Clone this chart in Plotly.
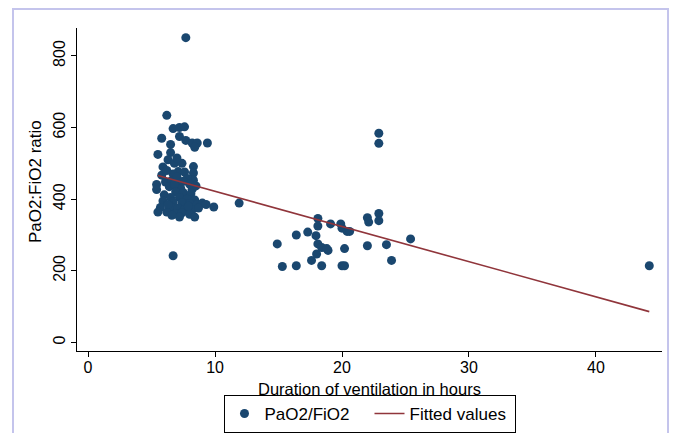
import plotly.graph_objects as go

# PaO2/FiO2 observations: duration of ventilation (hours) and ratio
hours = [
    7.7, 6.2, 6.7, 7.2, 7.6, 5.8, 7.2, 7.7, 8.2, 8.6, 9.4, 8.4, 6.5, 5.5, 6.5, 6.3, 6.8, 7.4, 7.0,
    5.9, 8.3, 7.1, 7.6, 8.3, 5.8, 6.7, 6.1, 6.6, 7.1, 8.3, 5.4, 5.4, 6.4, 7.3, 8.2, 8.5, 7.8, 7.0,
    6.2, 7.5, 8.0, 6.8,
    6.9, 7.5, 8.1, 6.0, 6.5, 7.2, 7.8, 8.4, 5.9, 6.7, 7.4, 8.0, 8.6, 9.0, 9.9, 5.7, 6.5, 7.1, 7.6,
    8.2, 5.5, 6.2, 6.9, 7.4, 8.0, 8.4, 7.2, 6.6, 9.3, 8.7, 7.9, 6.3,
    6.7, 11.9,
    14.9, 15.3, 16.4, 16.4, 17.3, 17.6, 18.0, 17.95, 18.1, 18.1, 18.1, 18.4, 18.4, 18.9, 18.8,
    19.1, 19.9, 20.0, 20.2, 20.0, 20.2, 20.4, 20.6, 22.0, 22.1, 22.0, 22.9, 22.9, 22.9, 22.9,
    23.5, 23.9, 25.4, 44.2,
]
ratio = [
    851, 634, 597, 600, 602, 570, 575, 564, 557, 557, 557, 545, 553, 525, 530, 510, 500, 500, 515,
    490, 491, 477, 476, 473, 467, 470, 448, 452, 444, 453, 441, 427, 435, 430, 428, 437, 458, 462,
    480, 450, 442, 440,
    420, 418, 415, 412, 405, 405, 400, 398, 395, 392, 390, 388, 385, 389, 378, 377, 378, 375, 372,
    370, 364, 364, 360, 362, 358, 350, 350, 355, 385, 375, 380, 385,
    242, 389,
    275, 212, 214, 300, 308, 229, 247, 298, 346, 325, 275, 265, 214, 257, 262,
    331, 331, 319, 262, 214, 214, 310, 310, 348, 336, 270, 360, 340, 584, 556,
    273, 229, 289, 214,
]

# Fitted (linear) values at the ends of the observed range
fit_hours = [5.5, 44.2]
fit_ratio = [466, 86]

x_ticks = [0, 10, 20, 30, 40]
y_ticks = [0, 200, 400, 600, 800]

navy = "#1a476f"
maroon = "#90353b"
font = "Liberation Sans, Arial, sans-serif"

fig = go.Figure()
fig.add_trace(go.Scatter(
    x=hours, y=ratio, mode="markers", name="PaO2/FiO2",
    marker=dict(color=navy, size=9, line=dict(width=0)),
))
fig.add_trace(go.Scatter(
    x=fit_hours, y=fit_ratio, mode="lines", name="Fitted values",
    line=dict(color=maroon, width=1.6),
))

fig.update_layout(
    width=669, height=425,
    margin=dict(l=69, r=15, t=20, b=82, autoexpand=False),
    paper_bgcolor="white", plot_bgcolor="white",
    font=dict(family=font, size=17, color="black"),
    showlegend=True,
    legend=dict(
        orientation="h", x=0.5, xanchor="center", y=-0.136, yanchor="top",
        bordercolor="black", borderwidth=1, bgcolor="white",
        font=dict(size=17), entrywidth=100, entrywidthmode="pixels", tracegroupgap=0,
    ),
    xaxis=dict(
        range=[-0.87, 45.2], tickvals=x_ticks, ticktext=[str(v) for v in x_ticks],
        showgrid=False, zeroline=False, showline=True, linecolor="black", linewidth=1,
        ticks="outside", ticklen=5, tickcolor="black", automargin=False,
        tickfont=dict(size=16), ticklabelstandoff=-3,
    ),
    yaxis=dict(
        range=[-24, 878], tickvals=y_ticks, ticktext=[str(v) for v in y_ticks],
        tickangle=-90, automargin=False,
        showgrid=False, zeroline=False, showline=True, linecolor="black", linewidth=1,
        ticks="outside", ticklen=5, tickcolor="black",
        tickfont=dict(size=16),
    ),
    annotations=[
        dict(text="Duration of ventilation in hours", xref="paper", yref="paper",
             x=0.5, y=-0.117, xanchor="center", yanchor="middle", showarrow=False,
             font=dict(size=16.5)),
        dict(text="PaO2:FiO2 ratio", xref="paper", yref="paper", textangle=-90,
             x=-0.0718, y=0.526, xanchor="center", yanchor="middle", showarrow=False,
             font=dict(size=17)),
    ],
    shapes=[dict(
        type="rect", xref="paper", yref="paper",
        x0=-0.1094, x1=1.0103, y0=-0.3, y1=1.059,
        line=dict(color="#c4c4ec", width=2), fillcolor="rgba(0,0,0,0)", layer="below",
    )],
)

fig.write_html("out.html")
